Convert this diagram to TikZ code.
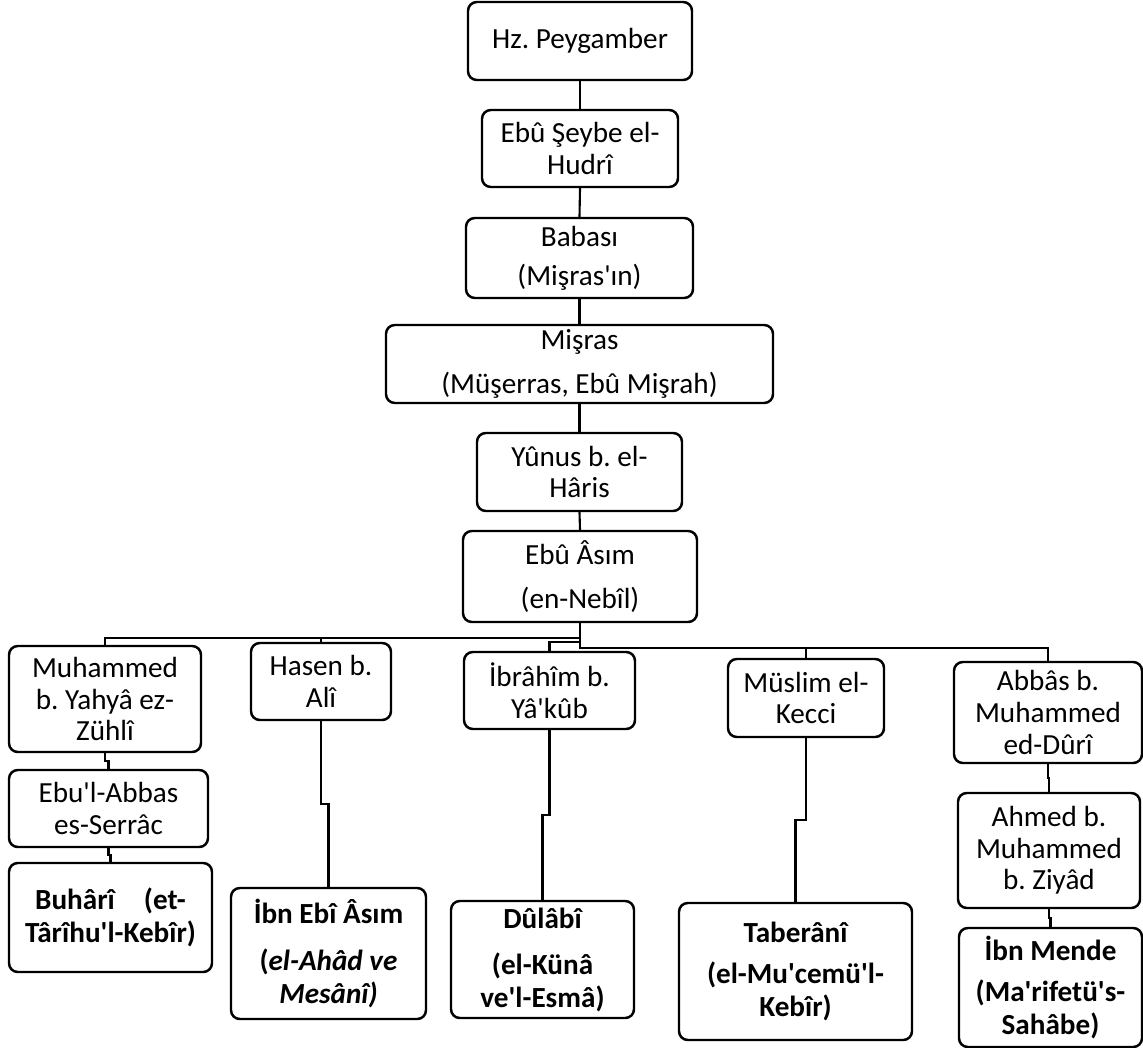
\documentclass[tikz,border=0pt]{standalone}
\usepackage{fontspec}
\setmainfont{Carlito}[Ligatures=TeXOff]
\usetikzlibrary{calc}

\tikzset{
	box/.style={draw, rounded corners=5pt, line width=1.4pt, align=center, inner sep=1pt},
	kitap/.style={box, font=\fontsize{16.6}{18.5}\selectfont\frenchspacing\bfseries},
	dims/.style 2 args={minimum width=#1*0.02cm, minimum height=#2*0.02cm},
	link/.style={line width=1.2pt},
	elbow/.style={to path={|- ($(\tikztostart)!0.5!(\tikztotarget)$) -| (\tikztotarget)}}
}

\begin{document}
\begin{tikzpicture}[x=0.02cm, y=-0.02cm, every node/.style={font=\fontsize{16.6}{18}\selectfont\frenchspacing}]
		\useasboundingbox (0,0) rectangle (1143,1048);
		
		\node[box, dims={224}{78}] (hz) at (580,41) {Hz. Peygamber};
		\node[box, dims={196}{77}] (seybe) at (580,148.5) {Ebû Şeybe el-\\Hudrî};
		\node[box, dims={227}{80}] (babasi) at (579.5,258) {Babası\\[4pt](Mişras'ın)};
		\node[box, dims={387}{78}] (misras) at (579.5,364) {Mişras\\[7pt](Müşerras, Ebû Mişrah)};
		\node[box, dims={205}{78}] (yunus) at (579.5,472) {Yûnus b. el-\\Hâris};
		\node[box, dims={234}{91}] (asim) at (580,576.5) {Ebû Âsım\\[7pt](en-Nebîl)};
		
		\draw[link] (hz.south) -- (seybe.north);
		\draw[link] (seybe.south) -- (babasi.north);
		\draw[link] (babasi.south) -- (misras.north);
		\draw[link] (misras.south) -- (yunus.north);
		\draw[link] (yunus.south) -- (asim.north);
		
		% Students of Ebu Asim
		\node[box, dims={192}{106}] (muhammed) at (105,699) {Muhammed\\b. Yahyâ ez-\\Zühlî};
		\node[box, dims={140}{77}] (hasen) at (321,681.5) {Hasen b.\\Alî};
		\node[box, dims={171}{77}] (ibrahim) at (549.5,690.5) {İbrâhîm b.\\Yâ'kûb};
		\node[box, dims={156}{78}] (muslim) at (806,698) {Müslim el-\\Kecci};
		\node[box, dims={188}{101}] (abbas) at (1048,712.5) {Abbâs b.\\Muhammed\\ed-Dûrî};
		
		\draw[link] (asim.south) -- ++(0,15) -| (muhammed.north);
		\draw[link] (asim.south) -- ++(0,15) -| (hasen.north);
		\draw[link] (asim.south) -- ++(0,19) -| (ibrahim.north);
		\draw[link] (asim.south) -- ++(0,25) -| (muslim.north);
		\draw[link] (asim.south) -- ++(0,25) -| (abbas.north);
		
		\node[box, dims={199}{77}] (serrac) at (108.5,808.5) {Ebu'l-Abbas\\es-Serrâc};
		\node[box, dims={182}{115}] (ahmed) at (1049,850.5) {Ahmed b.\\Muhammed\\b. Ziyâd};
		
		% Books
		\node[kitap, dims={203}{109}] (buhari) at (110.5,917.5) {Buhârî\hspace{1em}(et-\\Târîhu'l-Kebîr)};
		\node[kitap, dims={195}{131}] (ibnebi) at (328.5,953.5) {İbn Ebî Âsım\\[8pt](\textit{el-Ahâd ve}\\\textit{Mesânî)}};
		\node[kitap, dims={183}{117}] (dulabi) at (542.5,959.5) {Dûlâbî\\[8pt](el-Künâ\\ve'l-Esmâ)};
		\node[kitap, dims={233}{137}] (taberani) at (795.5,971.5) {Taberânî\\[5pt](el-Mu'cemü'l-\\Kebîr)};
		\node[kitap, dims={183}{119}] (ibnmende) at (1050.5,987.5) {İbn Mende\\[5pt](Ma'rifetü's-\\Sahâbe)};
		
		\draw[link] (muhammed.south) to[elbow] (serrac.north);
		\draw[link] (serrac.south) to[elbow] (buhari.north);
		\draw[link] (hasen.south) to[elbow] (ibnebi.north);
		\draw[link] (ibrahim.south) to[elbow] (dulabi.north);
		\draw[link] (muslim.south) to[elbow] (taberani.north);
		\draw[link] (abbas.south) to[elbow] (ahmed.north);
		\draw[link] (ahmed.south) to[elbow] (ibnmende.north);
		
	\end{tikzpicture}
\end{document}
